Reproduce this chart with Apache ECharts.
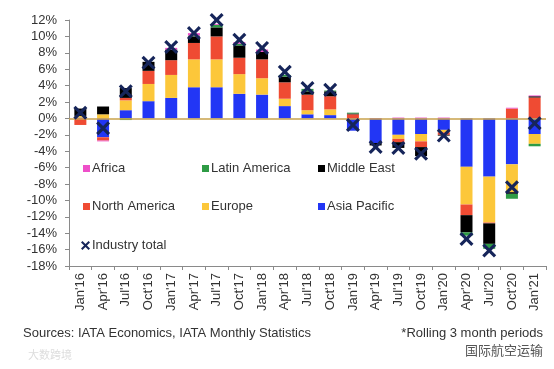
<!DOCTYPE html>
<html>
<head>
<meta charset="utf-8">
<script src="https://cdn.jsdelivr.net/npm/echarts@6/dist/echarts.min.js"></script>
<style>
html,body{margin:0;padding:0;background:#fff;}
#c{width:554px;height:369px;}
</style>
</head>
<body>
<div id="c"></div>
<script>
const categories = ["Jan'16","Apr'16","Jul'16","Oct'16","Jan'17","Apr'17","Jul'17","Oct'17","Jan'18","Apr'18","Jul'18","Oct'18","Jan'19","Apr'19","Jul'19","Oct'19","Jan'20","Apr'20","Jul'20","Oct'20","Jan'21"];
const asiaPacific   = [0.1,-2.3,1.0,2.1,2.5,3.8,3.8,3.0,2.9,1.5,0.5,0.4,-1.5,-3.0,-2.0,-1.9,-1.4,-5.9,-7.1,-5.6,-1.9];
const europe        = [0.2,0.5,1.2,2.1,2.8,3.4,3.4,2.4,2.0,0.9,0.5,0.7,0,0,-0.5,-0.9,-0.3,-4.6,-5.6,-3.4,-1.2];
const northAmerica  = [-0.8,-0.4,0.3,1.6,1.8,2.0,2.8,2.0,2.3,2.0,1.9,1.6,0.5,0,-0.4,-0.7,-0.3,-1.3,-0.1,1.2,2.55];
const middleEast    = [0.9,0.95,1.2,1.1,1.3,0.8,1.1,1.5,0.9,0.7,0.4,0.6,0.1,-0.3,-0.7,-1.1,-0.1,-2.1,-2.5,-0.2,0.15];
const latinAmerica  = [0,0,-0.2,0,0,0.1,0.3,0.2,0,0.2,0.3,0.1,0.1,0,0,0,0,-0.4,-0.6,-0.6,-0.3];
const africa        = [0,-0.1,0,0,0.2,0.3,0.1,0.2,0.3,0,0,0,0,0.05,0.1,0.1,0.1,0,0,0.1,0.1];
const industryTotal = [0.7,-1.2,3.3,6.8,8.7,10.4,12.0,9.6,8.6,5.7,3.7,3.5,-0.8,-3.5,-3.6,-4.3,-2.1,-14.7,-16.1,-8.4,-0.6];
const yTicks = {min:-18, max:12, interval:2};

const seriesNames = ['Asia Pacific','Europe','North America','Middle East','Latin America','Africa'];
const seriesData = [asiaPacific, europe, northAmerica, middleEast, latinAmerica, africa];
const seriesColors = ['#2236F5','#FCC73A','#EF4B33','#000000','#2E9B45','#EE4FC9'];
const totalColor = '#16255A';
const xPath = 'path://M0,1.6 L1.6,0 L5,3.4 L8.4,0 L10,1.6 L6.6,5 L10,8.4 L8.4,10 L5,6.6 L1.6,10 L0,8.4 L3.4,5 Z';
const font = 'Liberation Sans, Arial, sans-serif';

const legendLayout = [
  ['Africa',83,162],['Latin America',202,162],['Middle East',318,162],
  ['North America',83,200],['Europe',202,200],['Asia Pacific',318,200],
  ['Industry total',81,239]
];

const series = seriesNames.map((n,i)=>({
  name:n, type:'bar', stack:'total', barWidth:12,
  data: seriesData[i],
  itemStyle:{color:seriesColors[i]},
  emphasis:{disabled:true},
  markLine: i===0 ? {
    silent:true, symbol:'none', z:5,
    label:{show:false},
    lineStyle:{color:'#C9A24B', width:1.5, type:'solid'},
    data:[{yAxis:0}]
  } : undefined
}));
series.push({
  name:'Industry total', type:'scatter', data: industryTotal,
  symbol: xPath, symbolSize: 14, z: 10,
  itemStyle:{color: totalColor, opacity:1},
  emphasis:{disabled:true}
});

function colorOf(n){
  const i = seriesNames.indexOf(n);
  return i >= 0 ? seriesColors[i] : totalColor;
}

const chart = echarts.init(document.getElementById('c'), null, {renderer:'canvas'});
chart.setOption({
  animation:false,
  backgroundColor:'#fff',
  grid:{left:69, right:8, top:20, bottom:103},
  legend: legendLayout.map(([n,l,t])=>({
    left:l, top:t, padding:0, itemWidth: n==='Industry total' ? 9 : 7, itemHeight: n==='Industry total' ? 9 : 7, selectedMode:false,
    data:[{name:n, icon: n==='Industry total' ? xPath : 'rect', itemStyle:{color: colorOf(n), opacity:1}}],
    textStyle:{fontSize:13, color:'#333', fontFamily:font, padding:[0,0,0,-3]}
  })),
  xAxis:{
    type:'category', data:categories,
    axisLine:{onZero:false, lineStyle:{color:'#8a8a8a', width:1}},
    axisTick:{show:true, length:4, lineStyle:{color:'#8a8a8a'}},
    axisLabel:{rotate:90, margin:7, fontSize:13, color:'#333', fontFamily:font, interval:0}
  },
  yAxis:{
    type:'value', min:yTicks.min, max:yTicks.max, interval:yTicks.interval,
    axisLine:{show:true, lineStyle:{color:'#8a8a8a', width:1}},
    axisTick:{show:true, length:4, lineStyle:{color:'#8a8a8a'}},
    splitLine:{show:false},
    axisLabel:{formatter:'{value}%', fontSize:13, color:'#333', fontFamily:font, margin:12}
  },
  graphic:[
    {type:'text', left:23, top:327, style:{text:'Sources: IATA Economics, IATA Monthly Statistics', font:'13px '+font, fill:'#333'}},
    {type:'text', right:11, top:327, style:{text:'*Rolling 3 month periods', font:'13px '+font, fill:'#333'}},
    {type:'text', left:464, top:343, style:{text:'国际航空运输', font:'13px Noto Sans CJK SC', fill:'#555', stroke:'#fff', lineWidth:2}},
    {type:'text', left:28, top:349, style:{text:'大数跨境', font:'11px Noto Sans CJK SC', fill:'#ddd'}}
  ],
  series
});
</script>
</body>
</html>
